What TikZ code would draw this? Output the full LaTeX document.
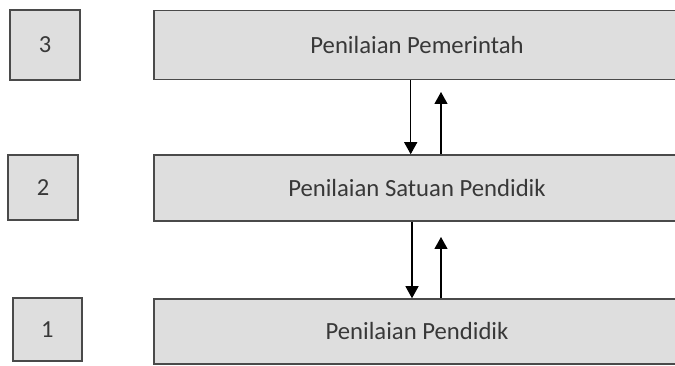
\documentclass[tikz,border=0pt]{standalone}
\usepackage{fontspec}
\setmainfont{Carlito}
\usetikzlibrary{arrows.meta}
\definecolor{boxfill}{HTML}{DEDEDE}
\definecolor{boxline}{HTML}{4A4A4A}
\definecolor{txt}{HTML}{383838}
\tikzset{
  numbox/.style={draw=boxline, fill=boxfill, line width=1.5pt, inner sep=0pt,
    text=txt, font=\fontsize{24.5}{26}\selectfont},
  levelbox/.style={draw=boxline, fill=boxfill, line width=1.5pt, inner sep=0pt,
    minimum width=526pt, text=txt, font=\fontsize{24.7}{26}\selectfont},
  flow/.style={line width=1.1pt, draw=black, -{Triangle[width=13pt,length=12pt]}}
}
\begin{document}
\begin{tikzpicture}[x=1pt,y=1pt]
\useasboundingbox (0,0) rectangle (675,366);
\clip (0,0) rectangle (675,366);
% level number boxes
\node[numbox, minimum width=70pt, minimum height=70pt] (n3) at (45,321) {3};
\node[numbox, minimum width=70pt, minimum height=65pt] (n2) at (43,178.5) {2};
\node[numbox, minimum width=69pt, minimum height=63pt] (n1) at (47.3,36.5) {1};
% level boxes
\node[levelbox, minimum height=69pt] (b3) at (417,321) {Penilaian Pemerintah};
\node[levelbox, minimum height=66pt] (b2) at (417,178) {Penilaian Satuan Pendidik};
\node[levelbox, minimum height=65pt] (b1) at (417,34.5) {Penilaian Pendidik};
% arrow positions
\coordinate (d1) at (410.7,0);
\coordinate (u1) at (441,274);
\coordinate (d2) at (412,0);
\coordinate (u2) at (441,129);
% connectors
\draw[flow] (b3.south -| d1) -- (b2.north -| d1);
\draw[flow] (b2.north -| u1) -- (u1);
\draw[flow] (b2.south -| d2) -- (b1.north -| d2);
\draw[flow] (b1.north -| u2) -- (u2);
\end{tikzpicture}
\end{document}
